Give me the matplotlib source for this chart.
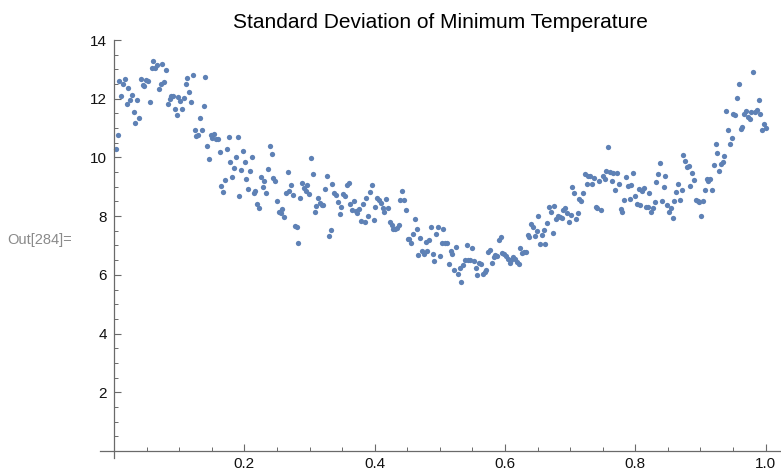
import numpy as np
import matplotlib
matplotlib.use('Agg')
import matplotlib.pyplot as plt
from matplotlib.ticker import MultipleLocator

# std dev of daily minimum temperature, one value per day of year
std_min_temp = [
    10.29, 10.77, 12.60, 12.10, 12.50, 12.66, 11.82, 12.36, 11.94, 12.14,
    11.56, 11.18, 11.94, 11.34, 12.66, 12.48, 12.44, 12.63, 12.62, 11.88,
    13.03, 13.29, 13.06, 13.14, 12.34, 12.49, 13.19, 12.57, 12.98, 11.82,
    12.00, 12.10, 12.09, 11.64, 11.44, 12.05, 11.91, 11.66, 12.02, 12.50,
    12.71, 12.24, 11.90, 12.81, 10.94, 10.73, 10.78, 11.34, 10.94, 11.75,
    12.75, 10.39, 9.95, 10.78, 10.66, 10.79, 10.62, 10.62, 10.18, 9.02,
    8.82, 9.23, 10.30, 10.69, 9.85, 9.34, 9.65, 10.01, 10.71, 8.69,
    9.58, 10.23, 9.84, 9.28, 8.93, 9.55, 10.02, 8.80, 8.85, 8.42,
    8.26, 9.33, 8.99, 9.19, 8.79, 9.62, 10.40, 10.11, 9.30, 9.20,
    8.52, 8.14, 8.10, 8.24, 7.98, 8.80, 9.50, 8.86, 9.05, 8.73,
    7.66, 7.62, 7.10, 8.62, 9.12, 8.95, 8.87, 9.07, 8.76, 9.97,
    9.44, 8.15, 8.35, 8.62, 8.46, 8.37, 8.37, 8.94, 9.35,
    7.32, 7.54, 9.11, 8.79, 8.72, 8.49, 8.06, 8.30, 8.75, 8.68,
    9.06, 9.14, 8.42, 8.21, 8.52, 8.17, 8.09, 8.25, 7.83, 8.43,
    7.80, 8.62, 8.02, 8.81, 9.07, 7.88, 8.31, 8.63, 8.54, 8.46,
    8.26, 8.15, 8.58, 8.29, 7.80, 7.70, 7.55, 7.56, 7.60, 7.69,
    8.55, 8.85, 8.55, 8.21, 7.22, 7.22, 7.09, 7.38, 7.89, 7.55,
    6.67, 7.26, 6.82, 6.71, 7.11, 6.82, 7.18,
    7.64, 6.72, 6.48, 7.38, 7.62, 6.65, 7.08, 7.56, 7.08, 7.08,
    6.38, 6.81, 6.71, 6.18, 6.95, 6.03, 6.24, 5.76, 6.33, 6.51,
    7.01, 6.51, 6.50, 6.91, 6.48, 6.22, 6.00, 6.40, 6.36, 6.03,
    6.09, 6.16, 6.78, 6.84, 6.40, 6.62, 6.68, 6.65, 7.19, 7.28,
    6.76, 6.71, 6.64, 6.53, 6.41, 6.50, 6.60, 6.55, 6.45, 6.38,
    6.93, 6.76, 6.78, 6.78, 7.35, 7.30, 7.74, 7.62,
    7.33, 7.49, 8.01, 7.05, 7.36, 7.54, 7.05, 7.76, 8.31, 8.15,
    7.43, 8.36, 7.90, 8.00, 7.97, 7.94, 8.21, 8.26, 8.10, 7.81,
    8.03, 8.98, 8.78, 7.90, 8.10, 8.60, 8.51, 8.78, 9.43, 9.10,
    9.35, 9.38, 9.10, 9.30, 8.31, 8.26, 9.20, 8.20, 9.37, 9.26,
    9.54, 10.36, 9.50, 9.20, 9.46, 8.89, 9.48, 9.09, 8.25, 8.13,
    8.55, 9.33, 9.03, 8.58, 9.07, 9.46, 8.68, 8.43, 8.92,
    8.38, 8.86, 8.97, 8.31, 8.31, 8.79, 8.13, 8.29, 8.49, 9.15,
    9.45, 9.80, 8.52, 8.99, 9.37, 8.38, 8.15, 8.27, 7.93, 8.52,
    8.83, 9.09, 8.56, 8.88, 10.09, 9.88, 9.68, 9.70, 9.04, 9.47,
    9.22, 8.54, 8.52, 8.48, 8.00, 8.52, 8.90, 9.27, 9.20, 9.27,
    8.88, 9.73, 10.47, 10.14, 9.54, 9.79, 9.86, 10.04, 11.59, 10.93,
    10.45, 10.66, 11.48, 11.44, 12.02, 12.49, 10.97, 11.03, 11.47, 11.58,
    11.38, 11.30, 11.54, 12.90, 11.56, 11.63, 11.95, 11.47, 10.93, 11.14,
    10.99,
]

title = "Standard Deviation of Minimum Temperature"
out_label = "Out[284]="
x_ticks = [0.2, 0.4, 0.6, 0.8, 1.0]
y_ticks = [2, 4, 6, 8, 10, 12, 14]

# fraction of the year, day 1..n
n = len(std_min_temp)
frac = np.arange(1, n + 1) / n

plt.rcParams['font.family'] = ['Liberation Sans', 'DejaVu Sans']
axis_col = '#6a6a6a'

fig = plt.figure(figsize=(7.81, 4.76), dpi=100)
ax = fig.add_axes([100 / 781, 18 / 476, 680 / 781, 418 / 476])

ax.plot(frac, std_min_temp, 'o', ms=3.8, mew=0, color='#5E81B5')

ax.set_xlim(-0.0215, 1.022)
ax.set_ylim(-0.24, 14.0)

# mathematica style axes crossing at origin
ax.spines['left'].set_position(('data', 0))
ax.spines['bottom'].set_position(('data', 0))
ax.spines['top'].set_visible(False)
ax.spines['right'].set_visible(False)
for s in ['left', 'bottom']:
    ax.spines[s].set_color(axis_col)
    ax.spines[s].set_linewidth(0.9)

ax.set_xticks(x_ticks)
ax.set_xticklabels(['%.1f' % v for v in x_ticks])
ax.set_yticks(y_ticks)
ax.xaxis.set_minor_locator(MultipleLocator(0.05))
ax.yaxis.set_minor_locator(MultipleLocator(0.5))
ax.tick_params(which='major', direction='in', length=5, width=0.8, color=axis_col, labelsize=11, labelcolor='#111111')
ax.tick_params(which='minor', direction='in', length=3, width=0.7, color=axis_col)
ax.tick_params(axis='x', pad=4)
ax.tick_params(axis='y', pad=5)

ax.set_title(title, fontsize=15, pad=9)

fig.text(7 / 781, 1 - 240 / 476, out_label, fontsize=10.5, color='#8a8a8a', va='center', ha='left')

plt.savefig('out.png', dpi=100)
